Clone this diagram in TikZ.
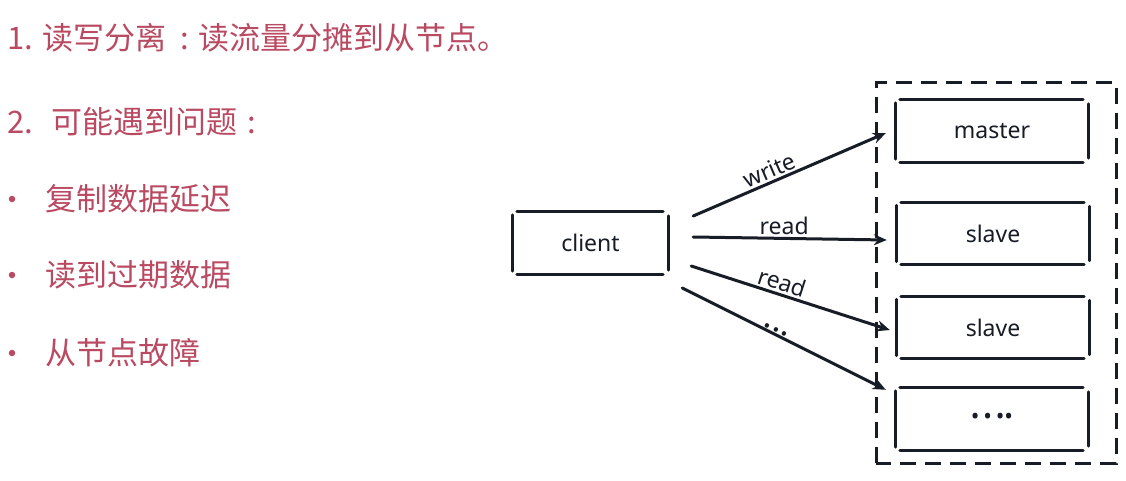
\documentclass[tikz,border=0pt]{standalone}
\usepackage{fontspec}
\setmainfont{Noto Sans}
\newfontfamily\cjk{Noto Sans CJK SC}
\usetikzlibrary{arrows.meta}
\definecolor{slidered}{RGB}{186,74,98}
\definecolor{ink}{RGB}{24,28,38}
\tikzset{
  x=1pt,y=1pt,
  slidetext/.style={anchor=west,inner sep=0pt,text=slidered,font=\cjk\fontsize{31}{34}\selectfont},
  bullettext/.style={anchor=west,inner sep=0pt,text=slidered,font=\cjk\fontsize{31}{34}\selectfont},
  bulletdot/.style={circle,fill=slidered,inner sep=0pt,minimum size=6.5pt},
  skbox/.style={inner sep=0pt,minimum width=192pt,minimum height=62pt,text=ink,font=\fontsize{23}{26}\selectfont},
  skline/.style={draw=ink,line width=3pt,line cap=round},
  conn/.style={draw=ink,line width=3pt,line cap=round,-{Stealth[length=13pt,width=11pt]}},
  lbl/.style={text=ink,font=\fontsize{23}{26}\selectfont,inner sep=2pt},
  dotlbl/.style={text=ink,font=\bfseries\fontsize{34}{34}\selectfont,inner sep=1pt},
  dashbox/.style={draw=ink,line width=3pt,dash pattern=on 16pt off 9pt},
}
\newcommand{\skframe}[1]{%
  \draw[skline] ([xshift=4pt]#1.north west) -- ([xshift=-5pt]#1.north east);
  \draw[skline] ([xshift=4pt]#1.south west) -- ([xshift=-5pt]#1.south east);
  \draw[skline] ([yshift=-3pt]#1.north west) -- ([yshift=3pt]#1.south west);
  \draw[skline] ([yshift=-4pt]#1.north east) -- ([yshift=4pt]#1.south east);
}
\begin{document}
\begin{tikzpicture}
\useasboundingbox (0,0) rectangle (1126,480);
\fill[white] (0,0) rectangle (1126,480);

% left text
\node[slidetext] (t1) at (7,442) {1. 读写分离\hspace{14pt}:\hspace{10pt}读流量分摊到从节点。};
\node[slidetext] (t2) at (7,358) {2.\hspace{18pt}可能遇到问题\hspace{10pt}:};
\node[bulletdot] (b1) at (12,281) {};
\node[bulletdot] (b2) at (12,205) {};
\node[bulletdot] (b3) at (12,127) {};
\node[bullettext] (l1) at (45,281) {复制数据延迟};
\node[bullettext] (l2) at (45,205) {读到过期数据};
\node[bullettext] (l3) at (45,127) {从节点故障};

% group of servers
\draw[dashbox] (876,17) rectangle (1116,397);
\node[skbox] (master) at (992,349) {master};
\node[skbox] (slave1) at (993,246.5) {slave};
\node[skbox] (slave2) at (993,152.5) {slave};
\node[skbox] (more) at (992,61) {\textbf{\textbullet\,\textbullet\,\textbullet\textbullet}};
\skframe{master}\skframe{slave1}\skframe{slave2}\skframe{more}

% client
\node[skbox,minimum width=155pt] (client) at (590.5,237) {client};
\skframe{client}

% connectors
\draw[conn] ([shift={(25,27)}]client.east) -- node[lbl,pos=0.42,above,sloped] {write} ([shift={(-10,-2)}]master.west);
\draw[conn] ([shift={(25,6)}]client.east) -- node[lbl,pos=0.47,above] {read} ([shift={(-10,-6.5)}]slave1.west);
\draw[conn] ([shift={(23,-23)}]client.east) -- node[lbl,pos=0.44,above,sloped] {read} ([shift={(-7,-2.5)}]slave2.west);
\draw[conn] ([shift={(14,-45)}]client.east) -- node[dotlbl,pos=0.45,above,sloped] {...} ([shift={(-10,-2)}]more.north west);
\end{tikzpicture}
\end{document}
